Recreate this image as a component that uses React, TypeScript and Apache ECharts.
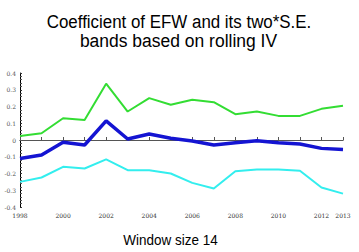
import React, { useEffect, useRef } from "react";
import * as echarts from "echarts";

const years = ["1998","1999","2000","2001","2002","2003","2004","2005","2006","2007","2008","2009","2010","2011","2012","2013"];
const upperBand = [0.024, 0.04, 0.13, 0.12, 0.336, 0.17, 0.25, 0.21, 0.24, 0.226, 0.154, 0.17, 0.144, 0.144, 0.186, 0.204];
const coefficient = [-0.11, -0.09, -0.014, -0.03, 0.114, 0.006, 0.036, 0.01, -0.006, -0.03, -0.016, -0.004, -0.016, -0.024, -0.05, -0.056];
const lowerBand = [-0.25, -0.224, -0.16, -0.17, -0.116, -0.18, -0.18, -0.2, -0.256, -0.29, -0.186, -0.176, -0.176, -0.184, -0.284, -0.32];
const titleLines = ["Coefficient of EFW and its two*S.E.", "bands based on rolling IV"];
const xTitle = "Window size 14";

export default function App() {
  const ref = useRef<HTMLDivElement>(null);
  useEffect(() => {
    if (!ref.current) return;
    const chart = echarts.init(ref.current, null, { renderer: "svg" });
    const font = "'Liberation Sans', Arial, sans-serif";
    chart.setOption({
      animation: false,
      backgroundColor: "#ffffff",
      grid: { left: 20, right: 16, top: 73, bottom: 45 },
      graphic: [
        { type: "text", x: 179, y: 21.5, scaleX: 0.89, originX: 0, style: { text: titleLines[0], font: `19px ${font}`, fill: "#000", align: "center", verticalAlign: "middle" } },
        { type: "text", x: 178.5, y: 40.5, scaleX: 0.92, style: { text: titleLines[1], font: `19px ${font}`, fill: "#000", align: "center", verticalAlign: "middle" } },
        { type: "text", x: 170.5, y: 239.5, scaleX: 0.9, style: { text: xTitle, font: `15px ${font}`, fill: "#000", align: "center", verticalAlign: "middle" } },
      ],
      xAxis: {
        type: "category",
        data: years,
        boundaryGap: false,
        axisLine: { lineStyle: { color: "#000", width: 1 } },
        axisTick: { show: true, interval: 0, inside: true, length: 3, lineStyle: { color: "#555" } },
        axisLabel: {
          interval: (i: number) => i % 2 === 0 || i === years.length - 1,
          fontSize: 6,
          fontFamily: "'DejaVu Serif', serif",
          color: "#333",
          margin: 5,
        },
        splitLine: { show: false },
      },
      yAxis: {
        type: "value",
        min: -0.4,
        max: 0.4,
        interval: 0.1,
        axisLine: { show: true, lineStyle: { color: "#000", width: 1 } },
        axisTick: { show: true, inside: true, length: 2, lineStyle: { color: "#333" } },
        minorTick: { show: true, splitNumber: 5, length: 2, lineStyle: { color: "#555" } },
        axisLabel: { fontSize: 6, fontFamily: "'DejaVu Serif', serif", color: "#555", margin: 4 },
        splitLine: { show: false },
      },
      series: [
        {
          type: "line", data: upperBand, symbol: "none",
          lineStyle: { color: "#33dd33", width: 2 }, z: 3,
        },
        {
          type: "line", data: lowerBand, symbol: "none",
          lineStyle: { color: "#33eeee", width: 2 }, z: 3,
        },
        {
          type: "line", data: coefficient, symbol: "none",
          lineStyle: { color: "#1414d2", width: 3.5 }, z: 4,
          markLine: {
            silent: true, symbol: "none", label: { show: false },
            lineStyle: { color: "#555", width: 1, type: "solid" },
            data: [{ yAxis: 0 }], z: 2,
          },
        },
      ],
    });
    return () => chart.dispose();
  }, []);
  return <div ref={ref} style={{ position: "fixed", left: 0, top: 0, width: 359, height: 252 }} />;
}
